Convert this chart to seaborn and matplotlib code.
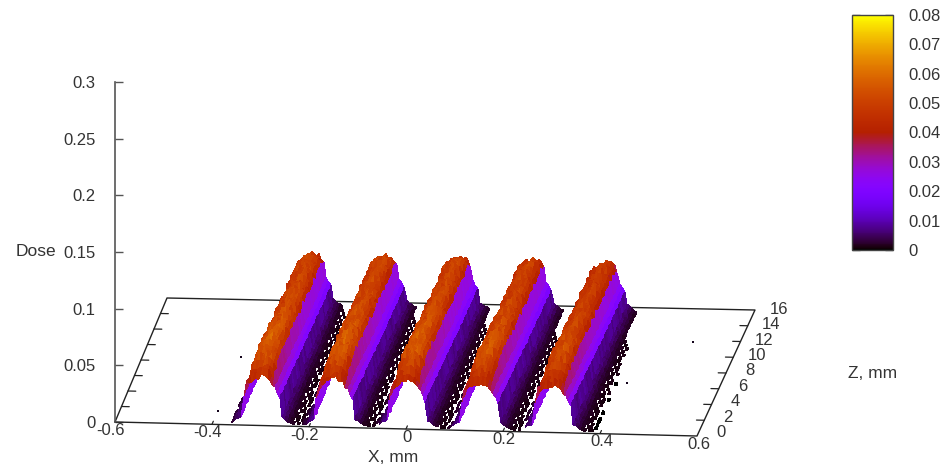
import numpy as np
import seaborn as sns
import matplotlib.pyplot as plt
from matplotlib.colors import ListedColormap

# ridge centres on the X axis, mm
ridge_x = [-0.30, -0.15, 0.0, 0.15, 0.30]
ridge_height = [1.0, 1.0, 1.0, 0.98, 0.95]
# one ridge cross section, step 0.005 mm, from 0.06 left of centre to the next ridge
profile = [0.002, 0.003, 0.005, 0.006, 0.007, 0.022, 0.031, 0.045, 0.048, 0.050,
           0.051, 0.052, 0.053, 0.054, 0.053, 0.052, 0.049, 0.045, 0.029, 0.025,
           0.021, 0.0075, 0.006, 0.0045, 0.003, 0.002, 0.0015, 0.001, 0.001, 0.001]
# crest level along Z, step 0.4 mm, front to back
z_gain = [0.80, 0.86, 0.91, 0.96, 1.01, 0.99, 1.05, 1.04, 1.07, 1.03, 1.06, 1.02, 1.05,
          1.00, 1.03, 0.99, 1.02, 0.98, 1.01, 0.97, 1.00, 0.98, 0.96, 0.99, 0.95, 0.98,
          0.95, 0.97, 0.94, 0.97, 0.95, 0.96, 0.94, 0.96, 0.95, 0.97, 0.96, 0.93, 0.88]
# wall level along Z, the front of the walls reads redder than the back
wall_gain = [1.15, 1.18, 1.16, 1.16, 1.15, 1.14, 1.14, 1.12, 1.12, 1.10, 1.10, 1.08, 1.08,
             1.06, 1.06, 1.04, 1.04, 1.02, 1.02, 1.00, 1.00, 0.98, 0.98, 0.96, 0.96, 0.95,
             0.95, 0.94, 0.94, 0.93, 0.93, 0.93, 0.92, 0.92, 0.92, 0.92, 0.92, 0.92, 0.92]
rough = [0.98, 1.02, 0.99, 1.04, 0.96, 1.01, 0.99, 1.05, 0.97, 1.01, 1.03, 0.95, 1.00,
         1.03, 0.97, 1.04, 0.99, 0.95, 1.03, 1.00, 0.97, 1.05, 0.98, 1.01, 0.96, 1.03, 1.00, 0.97, 1.03]
# which floor cells hold a dose, front rows first; columns 24 to 29 of a ridge and 0, 1 of the next
tail_cells = ["##.#.###", "#.#.####", "###.#.##", "##..####", "#.##.#.#", "##.#..##", "###.#.##", "#.#.#.##",
              "##.##..#", "#.##.#.#", "##.#.#.#", "###..###", "#.##.#.#", "##.#...#", "#.##.#.#", "###...##",
              "##.#...#", "#.##..##", "##.#.#.#", "###....#", "#.#.#..#", "##.#..##", "###....#", "#.##.#.#",
              "##.#...#", "###....#", "#.#.#..#", "##.#...#", "#.##...#", "##.#...#", "###....#", "#.#....#",
              "##.#...#", "#.#.....", "##.#....", "#.#.....", "##......", "#......."]
# stray single hits on the floor
speck_x = [-0.40, -0.40, 0.408, 0.505]
speck_z = [8.7, 1.76, 6.4, 11.8]

x_ticks = [-0.6, -0.4, -0.2, 0, 0.2, 0.4, 0.6]
z_ticks = [0, 2, 4, 6, 8, 10, 12, 14, 16]
dose_ticks = [0, 0.05, 0.1, 0.15, 0.2, 0.25, 0.3]
cbar_ticks = [0, 0.01, 0.02, 0.03, 0.04, 0.05, 0.06, 0.07, 0.08]


def project(x, z, dose=0.0):
    # view of the 3d box, gives data coords of the flat axes
    u = (np.asarray(x) + 0.6) / 1.2
    v = np.asarray(z) / 16.0
    sx = -0.6 + 1.2 * (582 * u + 52 * v + 6 * u * v) / 582
    sy = np.asarray(dose) + 0.3 * (-14 * u + 124 * v + 2 * u * v) / 340
    return sx, sy


sns.set_theme(style='white')
plt.rcParams['font.family'] = ['Liberation Sans', 'DejaVu Sans']
plt.rcParams['text.color'] = '#333333'
fig = plt.figure(figsize=(9.51, 4.70), dpi=100)
ax = fig.add_axes([115 / 951, 48 / 470, 582 / 951, 340 / 470])
cax = fig.add_axes([852 / 951, 220 / 470, 41 / 951, 235 / 470])

# surface, back rows first and left to right so nearer cells paint over
n_prof = len(profile)
n_cols = len(ridge_x) * n_prof
n_rows = len(z_gain)
x_nodes = -0.36 + 0.005 * np.arange(n_cols + 1)
z_nodes = 0.4 * np.arange(n_rows)
dose = np.zeros((n_rows, n_cols + 1))
have = np.ones((n_rows - 1, n_cols), dtype=bool)
for i in range(n_rows):
    for k in range(len(ridge_x)):
        for j in range(n_prof):
            col = k * n_prof + j
            r = rough[(i * 5 + j * 3 + k * 11) % len(rough)]
            if profile[j] >= 0.04:
                level = profile[j] * ridge_height[k] * z_gain[i] * r
            elif profile[j] >= 0.02:
                level = profile[j] * wall_gain[i] * (1 + (r - 1) * 0.5)
            else:
                level = profile[j] * (1 + (r - 1) * 3)
            dose[i, col] = level
            if i < n_rows - 1 and (j >= 24 or j < 2):
                row = tail_cells[min(i + k * 2, n_rows - 2)]
                have[i, col] = row[(j - 24) % n_prof] == '#'
zz, xx = np.meshgrid(z_nodes, x_nodes, indexing='ij')
sx, sy = project(xx, zz, dose)
# cell colour from its far right corner, keeps the bands sharp
cell = np.ma.masked_where(~have, dose[1:, 1:])

t = np.linspace(0, 1, 256)
pm3d = ListedColormap(np.column_stack([np.sqrt(t), t ** 3, np.clip(np.sin(2 * np.pi * t), 0, 1)]))
pm3d.set_bad((1, 1, 1, 0))
mesh = ax.pcolormesh(sx[::-1], sy[::-1], cell[::-1], cmap=pm3d, vmin=0, vmax=0.08,
                     shading='flat', clip_on=False, zorder=3)

# floor box
bx, by = project([-0.6, 0.6, 0.6, -0.6, -0.6], [0, 0, 16, 16, 0])
ax.plot(bx, by, color='#222222', lw=1, clip_on=False, zorder=2)
for z in z_ticks[1:-1]:
    tx, ty = project([-0.6, -0.584], [z, z])
    ax.plot(tx, ty, color='#222222', lw=0.9, clip_on=False, zorder=2)
    tx, ty = project([0.6, 0.584], [z, z])
    ax.plot(tx, ty, color='#222222', lw=0.9, clip_on=False, zorder=2)
for x in x_ticks[1:-1]:
    tx, ty = project([x, x], [0, 0.4])
    ax.plot(tx, ty, color='#222222', lw=0.9, zorder=2, clip_on=False)

sx_s, sy_s = project(speck_x, speck_z)
sns.scatterplot(x=sx_s, y=sy_s, ax=ax, color='#14041c', s=3, marker='s', linewidth=0, clip_on=False, zorder=3)

# tick labels of the floor axes
for x in x_ticks:
    px, py = project(x, 0)
    ax.annotate(f'{x:g}', (px, py), xytext=(-3 if x < 0 else 1, -6), textcoords='offset points',
                ha='center', va='center', fontsize=12, annotation_clip=False)
for z in z_ticks:
    px, py = project(0.6, z)
    ax.annotate(f'{z:g}', (px, py), xytext=(17, 0.5 + 2 * (16 - z) / 16), textcoords='offset points',
                ha='center', va='center', fontsize=12, annotation_clip=False)
fig.text(393 / 951, 1 - 458 / 470, 'X, mm', ha='center', va='center', fontsize=12.5)
fig.text(872.5 / 951, 1 - 374 / 470, 'Z, mm', ha='center', va='center', fontsize=12.5)
fig.text(36 / 951, 1 - 252 / 470, 'Dose', ha='center', va='center', fontsize=12.5)

ax.set_xlim(-0.6, 0.6)
ax.set_ylim(0, 0.3)
ax.set_xticks([])
ax.set_yticks(dose_ticks)
ax.set_yticklabels([f'{d:g}' for d in dose_ticks])
ax.tick_params(axis='y', direction='in', length=6, width=1, color='#555555', labelsize=12,
               pad=14, left=True, labelcolor='#333333')
ax.patch.set_alpha(0)
sns.despine(ax=ax, top=True, right=True, bottom=True)
ax.spines['left'].set_color('#555555')
ax.spines['left'].set_linewidth(1.2)

# colour box
cb = fig.colorbar(mesh, cax=cax, ticks=cbar_ticks)
cb.ax.set_yticklabels([f'{c:g}' for c in cbar_ticks])
cb.ax.tick_params(axis='y', direction='in', length=6, width=0.9, color='black', labelsize=12,
                  pad=11, left=True, right=True, labelcolor='#333333')
cb.outline.set_edgecolor('#444444')
cb.outline.set_linewidth(1)

fig.savefig('out.png', dpi=100)
